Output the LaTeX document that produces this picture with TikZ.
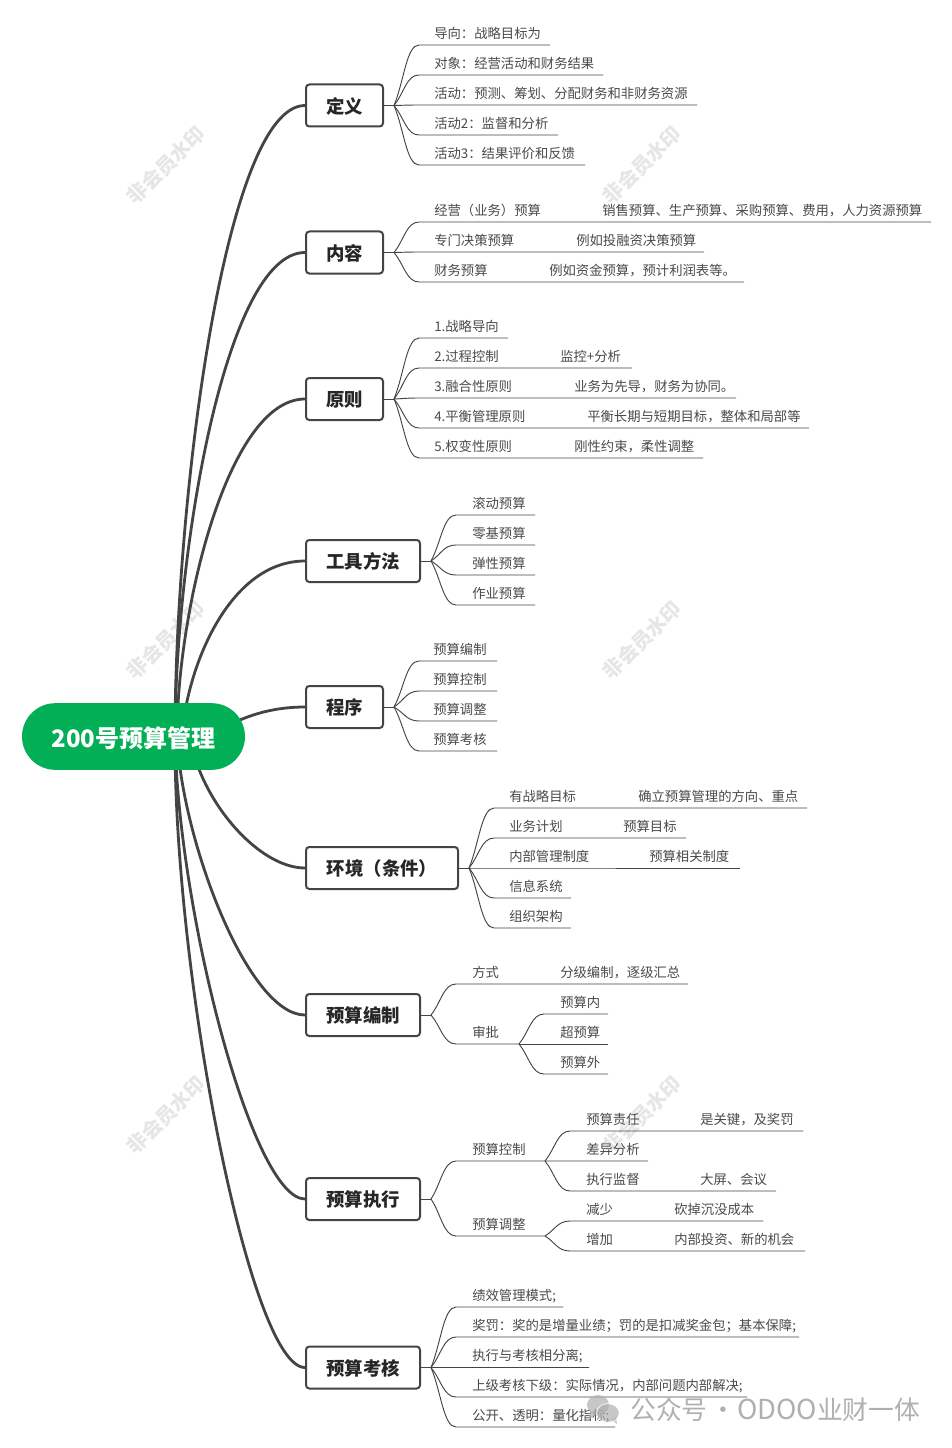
\documentclass[tikz,border=0pt]{standalone}
\usepackage{fontspec}
\setmainfont{Noto Sans CJK SC}
\usetikzlibrary{calc}
\pgfdeclarelayer{bg}
\pgfsetlayers{bg,main}
\definecolor{ink}{HTML}{444444}
\definecolor{txt}{HTML}{4A4A4A}
\definecolor{rootgreen}{HTML}{03AF56}
\definecolor{wm}{HTML}{E6E6E6}
\definecolor{sig}{HTML}{B0B0B0}
\tikzset{
  mainbox/.style={draw=ink,line width=1.5pt,fill=white,rounded corners=2.5pt,minimum height=31.5pt,inner sep=0pt,font=\bfseries\fontsize{13.8}{15}\selectfont,text=black!85,text depth=1pt,text height=12.5pt},
  rootbox/.style={fill=rootgreen,rounded corners=25pt,minimum width=167.25pt,minimum height=50pt,inner sep=0pt,font=\bfseries\fontsize{18}{20}\selectfont,text=white,text depth=1pt,text height=17pt},
  leaftext/.style={anchor=west,inner sep=0pt,font=\fontsize{10}{12}\selectfont,text=txt,text height=8.8pt,text depth=1.2pt},
  thinline/.style={draw=ink,line width=.7pt},
  trunk/.style={draw=ink,line width=2.1pt},
  watermark/.style={font=\bfseries\fontsize{15}{16}\selectfont,text=wm,rotate=45,inner sep=0pt},
  signature/.style={font=\fontsize{19.3}{22}\selectfont,text=sig,anchor=west,inner sep=0pt}
}
% name, parent hub, text x, line y, line end x, text
\newcommand\sleaf[6]{%
  \coordinate (#1-e) at (#5,#4);
  \coordinate (#1-x) at ($(#2)+(25,0)$);
  \coordinate (#1-s) at (#1-x |- #1-e);
  \coordinate (#1-m) at ($(#2)!.5!(#1-s)$);
  \coordinate (#1-c) at (#1-m |- #1-s);
  \node[leaftext] (#1) at (#3,#4-12) {#6};
  \begin{pgfonlayer}{bg}
  \draw[thinline] (#2) .. controls ($(#2)!.4!(#1-s)$) and (#1-c) .. (#1-s) -- (#1-e);
  \end{pgfonlayer}
}
% as \sleaf, then second text x, second text
\newcommand\leaf[8]{%
  \sleaf{#1}{#2}{#3}{#4}{#5}{#6}
  \node[leaftext] (#1-b) at (#7,#4-12) {#8};
}
% box name, hub name, text, center x, center y, width
\newcommand\branch[6]{%
  \node[mainbox,minimum width=#6*.75pt] (#1) at (#4,#5) {#3};
  \coordinate (#2) at ($(#1.east)+(10,0)$);
  \begin{pgfonlayer}{bg}\draw[thinline] (#1.east) -- (#2);\end{pgfonlayer}
}
\begin{document}
\begin{tikzpicture}[x=.75pt,y=-.75pt]
\useasboundingbox (0,0) rectangle (952,1448);

\begin{pgfonlayer}{bg}
\fill[white] (0,0) rectangle (952,1448);
\foreach \wx/\wy/\wn in {166/165/a,642/165/b,166/640/c,642/640/d,166/1115/e,642/1115/f}
  \node[watermark] (wm\wn) at (\wx,\wy) {非会员水印};
\end{pgfonlayer}

\node[rootbox] (root) at (133.5,736.5) {200号预算管理};

\branch{b1}{h1}{定义}{344.5}{105.5}{77}
\branch{b2}{h2}{内容}{344.5}{252.5}{77}
\branch{b3}{h3}{原则}{344.5}{399}{77}
\branch{b4}{h4}{工具方法}{363}{561}{114}
\branch{b5}{h5}{程序}{344.5}{707}{77}
\branch{b6}{h6}{环境（条件）}{382}{868}{152}
\branch{b7}{h7}{预算编制}{363}{1015}{114}
\branch{b8}{h8}{预算执行}{363}{1199}{114}
\branch{b9}{h9}{预算考核}{363}{1367.5}{114}

\coordinate (r1) at (175,737);
\coordinate (r3) at (177,737);
\coordinate (r4) at (182,737);
\coordinate (r5) at (225,727);
\coordinate (r6) at (190,737);
\begin{pgfonlayer}{bg}
\draw[trunk] (r1) .. controls (175,500) and (225,105.5) .. (b1.west);
\draw[trunk] (r1) .. controls (175,555) and (225,252.5) .. (b2.west);
\draw[trunk] (r3) .. controls (177,610) and (228,399) .. (b3.west);
\draw[trunk] (r4) .. controls (186,670) and (228,561) .. (b4.west);
\draw[trunk] (r5) .. controls (250,714) and (275,707) .. (b5.west);
\draw[trunk] (r6) .. controls (200,800) and (258,868) .. (b6.west);
\draw[trunk] (r3) .. controls (182,841) and (248,1015) .. (b7.west);
\draw[trunk] (r1) .. controls (178,910) and (252,1199) .. (b8.west);
\draw[trunk] (r1) .. controls (174,975) and (250,1367.5) .. (b9.west);
\end{pgfonlayer}

% 定义
\sleaf{a1}{h1}{434}{45}{550}{导向：战略目标为}
\sleaf{a2}{h1}{434}{75}{603}{对象：经营活动和财务结果}
\sleaf{a3}{h1}{434}{105}{697}{活动：预测、筹划、分配财务和非财务资源}
\sleaf{a4}{h1}{434}{135}{558}{活动2：监督和分析}
\sleaf{a5}{h1}{434}{165}{585}{活动3：结果评价和反馈}
% 内容
\leaf{c1}{h2}{434}{222}{931}{经营（业务）预算}{602}{销售预算、生产预算、采购预算、费用，人力资源预算}
\leaf{c2}{h2}{434}{252}{704}{专门决策预算}{576}{例如投融资决策预算}
\leaf{c3}{h2}{434}{282}{744}{财务预算}{549}{例如资金预算，预计利润表等。}
% 原则
\sleaf{d1}{h3}{434}{338}{508}{1.战略导向}
\leaf{d2}{h3}{434}{368}{632}{2.过程控制}{560}{监控+分析}
\leaf{d3}{h3}{434}{398}{736}{3.融合性原则}{574}{业务为先导，财务为协同。}
\leaf{d4}{h3}{434}{428}{809}{4.平衡管理原则}{587}{平衡长期与短期目标，整体和局部等}
\leaf{d5}{h3}{434}{458}{703}{5.权变性原则}{574}{刚性约束，柔性调整}
% 工具方法
\sleaf{e1}{h4}{472}{515}{535}{滚动预算}
\sleaf{e2}{h4}{472}{545}{535}{零基预算}
\sleaf{e3}{h4}{472}{575}{535}{弹性预算}
\sleaf{e4}{h4}{472}{605}{535}{作业预算}
% 程序
\sleaf{f1}{h5}{433}{661}{497}{预算编制}
\sleaf{f2}{h5}{433}{691}{497}{预算控制}
\sleaf{f3}{h5}{433}{721}{497}{预算调整}
\sleaf{f4}{h5}{433}{751}{497}{预算考核}
% 环境
\leaf{g1}{h6}{509}{808}{807}{有战略目标}{638}{确立预算管理的方向、重点}
\leaf{g2}{h6}{509}{838}{686}{业务计划}{623}{预算目标}
\leaf{g3}{h6}{509}{868}{740}{内部管理制度}{649}{预算相关制度}
\sleaf{g4}{h6}{509}{898}{571}{信息系统}
\sleaf{g5}{h6}{509}{928}{571}{组织架构}
% 预算编制
\leaf{k1}{h7}{472}{984}{688}{方式}{560}{分级编制，逐级汇总}
\sleaf{k2}{h7}{472}{1044}{519}{审批}
\coordinate (h7b) at (k2-e);
\sleaf{k3}{h7b}{560}{1014}{608}{预算内}
\sleaf{k4}{h7b}{560}{1044}{608}{超预算}
\sleaf{k5}{h7b}{560}{1074}{608}{预算外}
% 预算执行
\sleaf{m1}{h8}{472}{1161}{545}{预算控制}
\sleaf{m2}{h8}{472}{1236}{545}{预算调整}
\coordinate (h8a) at (m1-e);
\coordinate (h8b) at (m2-e);
\leaf{n1}{h8a}{586}{1131}{803}{预算责任}{700}{是关键，及奖罚}
\sleaf{n2}{h8a}{586}{1161}{648}{差异分析}
\leaf{n3}{h8a}{586}{1191}{776}{执行监督}{700}{大屏、会议}
\leaf{n4}{h8b}{586}{1221}{763}{减少}{674}{砍掉沉没成本}
\leaf{n5}{h8b}{586}{1251}{805}{增加}{674}{内部投资、新的机会}
% 预算考核
\sleaf{p1}{h9}{472}{1307}{563}{绩效管理模式;}
\sleaf{p2}{h9}{472}{1337}{799}{奖罚：奖的是增量业绩；罚的是扣减奖金包；基本保障;}
\sleaf{p3}{h9}{472}{1367.5}{589}{执行与考核相分离;}
\sleaf{p4}{h9}{472}{1397}{747}{上级考核下级：实际情况，内部问题内部解决;}
\sleaf{p5}{h9}{472}{1427}{615}{公开、透明：量化指标;}

% signature
\begin{scope}[opacity=.7]
\fill[sig] (598,1405) ellipse (11 and 10);
\fill[sig] (590,1412) -- (588,1420) -- (597,1414) -- cycle;
\fill[sig] (608,1413) ellipse (11 and 9);
\fill[sig] (612,1420) -- (617,1424) -- (616,1417) -- cycle;
\draw[white,line width=.7pt] (608,1413) ellipse (11.5 and 9.5);
\end{scope}
\node[signature] (sign) at (630,1410) {公众号\hspace{2pt}·\hspace{1pt}{\fontsize{20.6}{22}\selectfont ODOO}业财一体};
\end{tikzpicture}
\end{document}
